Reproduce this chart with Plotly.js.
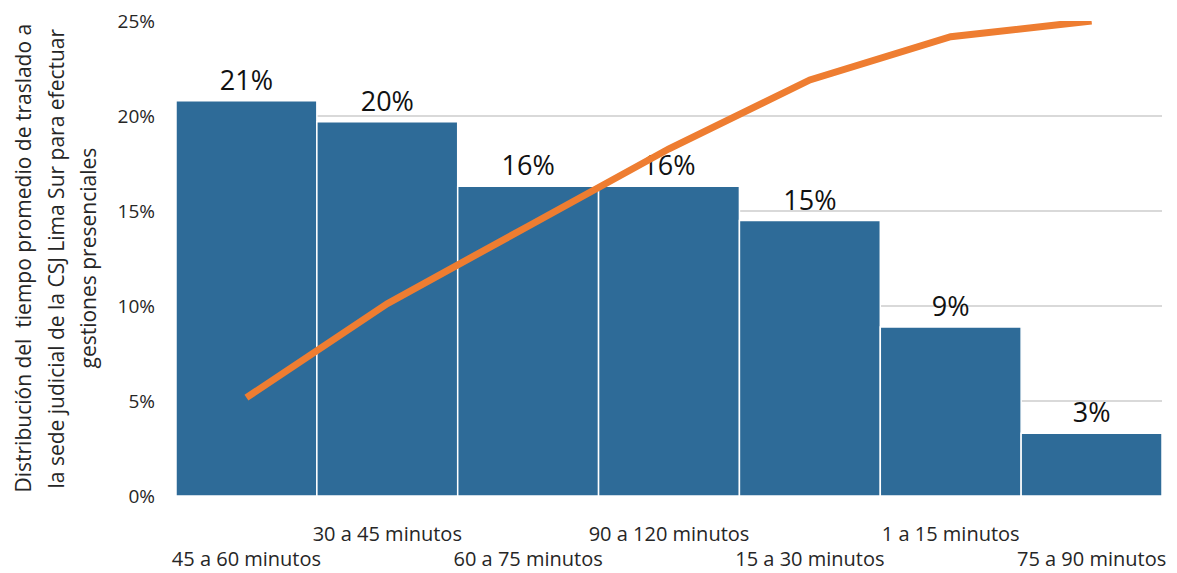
<!DOCTYPE html>
<html><head><meta charset="utf-8">
<script src="https://cdn.plot.ly/plotly-3.0.1.min.js"></script>
<style>html,body{margin:0;padding:0;background:#fff}#c{width:1177px;height:573px}</style>
</head><body><div id="c"></div>
<script>
const categories = ["45 a 60 minutos","30 a 45 minutos","60 a 75 minutos","90 a 120 minutos","15 a 30 minutos","1 a 15 minutos","75 a 90 minutos"];
const barValues = [20.8, 19.7, 16.3, 16.3, 14.5, 8.9, 3.3];
const barLabels = ["21%","20%","16%","16%","15%","9%","3%"];
const cumulativeValues = [20.7, 40.5, 56.8, 73.1, 87.6, 96.7, 100.0];
const yTickVals = [0,5,10,15,20,25];
const yTitleLines = ["Distribución del  tiempo promedio de traslado a","la sede judicial de la CSJ Lima Sur para efectuar","gestiones presenciales"];

const FONT = "Open Sans, Liberation Sans, sans-serif";
const TXT = '#262626';
const lowerRow = categories.filter((c,i)=>i%2===0);
const upperRow = categories.filter((c,i)=>i%2===1);

const traces = [
  {type:'bar', x:categories, y:barValues, text:barLabels, textposition:'outside',
   textfont:{family:FONT,size:27,color:'#111'}, cliponaxis:false,
   marker:{color:'#2E6B98', line:{color:'#ffffff', width:1.5}}, hoverinfo:'skip'},
  {type:'scatter', mode:'lines', x:categories, y:cumulativeValues, xaxis:'x2', yaxis:'y2', cliponaxis:false,
   line:{color:'#EE7D31', width:7}, hoverinfo:'skip'}
];

const W = 1177, L = 176, R = 15, PW = W - L - R;
const px = p => (p - L) / PW;

const annotations = yTitleLines.map((t,i)=>({
  text:t, xref:'paper', yref:'paper', x:px([22,55,87][i]), y:0.5,
  xanchor:'center', yanchor:'middle', textangle:-90, showarrow:false,
  font:{family:FONT,size:21,color:TXT}
}));

const layout = {
  width:1177, height:573, margin:{l:L, r:R, t:21, b:77},
  paper_bgcolor:'#fff', plot_bgcolor:'#fff', showlegend:false, bargap:0,
  font:{family:FONT, color:TXT},
  xaxis:{type:'category', categoryarray:categories, range:[-0.5,6.5], tickvals:lowerRow, ticktext:lowerRow,
    showgrid:false, zeroline:false, showline:false, ticks:'', ticklabelstandoff:49,
    tickfont:{family:FONT,size:20,color:TXT}},
  xaxis2:{type:'category', categoryarray:categories, range:[-0.5,6.5], overlaying:'x', anchor:'y', side:'bottom',
    tickvals:upperRow, ticktext:upperRow, showgrid:false, zeroline:false, showline:false, ticks:'', ticklabelstandoff:24,
    tickfont:{family:FONT,size:20,color:TXT}},
  yaxis:{range:[0,25], tickvals:yTickVals, ticktext:yTickVals.map(v=>v+'%'), showgrid:true, gridcolor:'#D9D9D9', gridwidth:1.5,
    zeroline:false, showline:false, ticks:'', ticklabelstandoff:20, tickfont:{family:FONT,size:19,color:TXT}},
  yaxis2:{range:[0,100], overlaying:'y', side:'right', visible:false, showgrid:false, zeroline:false},
  annotations: annotations
};

Plotly.newPlot('c', traces, layout, {staticPlot:true, displayModeBar:false});
</script></body></html>
